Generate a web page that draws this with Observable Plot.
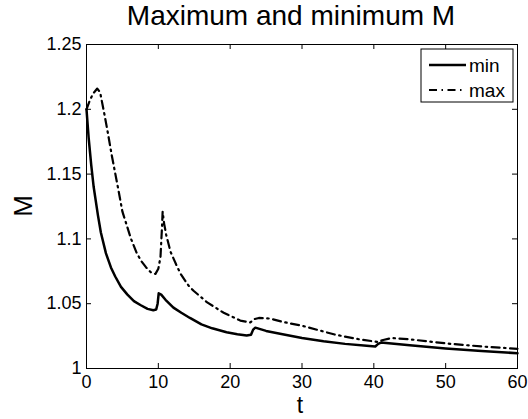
<!DOCTYPE html>
<html>
<head>
<meta charset="utf-8">
<script src="https://cdn.jsdelivr.net/npm/d3@7"></script>
<script src="https://cdn.jsdelivr.net/npm/@observablehq/plot@0.6"></script>
<style>
  html, body { margin: 0; padding: 0; background: white; }
</style>
</head>
<body>
<div id="chart"></div>
<script>
const titleText = "Maximum and minimum M";
const xLabel = "t";
const yLabel = "M";
const seriesNames = ["min", "max"];

const xTicks = [0, 10, 20, 30, 40, 50, 60];
const xTickLabels = ["0", "10", "20", "30", "40", "50", "60"];
const yTicks = [1, 1.05, 1.1, 1.15, 1.2, 1.25];
const yTickLabels = ["1", "1.05", "1.1", "1.15", "1.2", "1.25"];

const tMin = [0, 0.3, 0.66, 1.0, 1.6, 2.0, 2.7, 3.4, 4.0, 4.8, 5.7, 6.6, 7.5, 8.5, 9.3, 9.7, 9.9, 10.05, 10.4, 11.0, 12.1, 13.2, 14.4, 16.0, 17.5, 19.5, 21.0, 22.3, 22.9, 23.2, 23.5, 25, 27.3, 30, 33, 36, 39, 40.2, 40.6, 41.0, 45, 50, 55, 60];
const mMin = [1.200, 1.178, 1.157, 1.140, 1.118, 1.105, 1.089, 1.078, 1.071, 1.063, 1.057, 1.052, 1.049, 1.046, 1.045, 1.0455, 1.050, 1.058, 1.057, 1.053, 1.047, 1.043, 1.039, 1.034, 1.031, 1.028, 1.0265, 1.0255, 1.026, 1.030, 1.0315, 1.029, 1.0265, 1.0235, 1.021, 1.019, 1.0175, 1.017, 1.019, 1.020, 1.018, 1.0155, 1.0135, 1.0118];

const tMax = [0, 0.4, 0.9, 1.5, 1.9, 2.5, 3.0, 3.5, 4.4, 5.0, 5.4, 6.2, 7.0, 7.6, 8.3, 9.0, 9.6, 10.0, 10.3, 10.5, 10.6, 10.8, 11.1, 11.7, 12.5, 13.1, 14.2, 14.9, 16.8, 19.1, 21.4, 22.8, 23.3, 24.0, 25.6, 27.3, 30, 34.7, 38, 40.5, 41.3, 42.5, 45, 50.7, 55, 60];
const mMax = [1.200, 1.206, 1.212, 1.216, 1.213, 1.196, 1.181, 1.165, 1.139, 1.121, 1.114, 1.100, 1.089, 1.083, 1.078, 1.074, 1.073, 1.077, 1.086, 1.108, 1.121, 1.112, 1.103, 1.090, 1.080, 1.073, 1.064, 1.060, 1.051, 1.043, 1.037, 1.0355, 1.038, 1.039, 1.0385, 1.036, 1.033, 1.026, 1.0225, 1.0205, 1.022, 1.0235, 1.0225, 1.019, 1.017, 1.0152];

const minData = tMin.map((t, i) => ({t, m: mMin[i]}));
const maxData = tMax.map((t, i) => ({t, m: mMax[i]}));

const W = 528, H = 419;
const mL = 86, mR = 11, mT = 44, mB = 51;
const innerW = W - mL - mR, innerH = H - mT - mB;
const tick = 5;
const font = "'Liberation Sans', Arial, Helvetica, sans-serif";
const maxDash = "8,4.5,1.5,4.5";

const plot = Plot.plot({
  width: W,
  height: H,
  marginLeft: mL, marginRight: mR, marginTop: mT, marginBottom: mB,
  style: {fontFamily: font, background: "white", color: "black"},
  x: {domain: [0, 60]},
  y: {domain: [1, 1.25]},
  marks: [
    Plot.line(minData, {x: "t", y: "m", stroke: "black", strokeWidth: 2.5}),
    Plot.line(maxData, {x: "t", y: "m", stroke: "black", strokeWidth: 2.2, strokeDasharray: maxDash}),
    Plot.frame({stroke: "black", strokeWidth: 1}),
    Plot.ruleX(xTicks, {insetTop: innerH - tick, stroke: "black"}),
    Plot.ruleX(xTicks, {insetBottom: innerH - tick, stroke: "black"}),
    Plot.ruleY(yTicks, {insetRight: innerW - tick, stroke: "black"}),
    Plot.ruleY(yTicks, {insetLeft: innerW - tick, stroke: "black"}),
    Plot.axisX({ticks: xTicks, tickSize: 0, tickPadding: 7, fontSize: 18, label: null,
      tickFormat: d => xTickLabels[xTicks.indexOf(d)]}),
    Plot.axisY({ticks: yTicks, tickSize: 0, tickPadding: 5, fontSize: 18, label: null,
      tickFormat: d => yTickLabels[yTicks.indexOf(d)]})
  ]
});

const svg = d3.select(plot);
svg.append("text")
  .attr("x", 291).attr("y", 25)
  .attr("text-anchor", "middle")
  .style("font-family", font).style("font-size", "28px").attr("fill", "black")
  .text(titleText);
svg.append("text")
  .attr("x", 300).attr("y", 413)
  .attr("text-anchor", "middle")
  .style("font-family", font).style("font-size", "23px").attr("fill", "black")
  .text(xLabel);
svg.append("text")
  .attr("transform", `translate(32,${mT + innerH / 2}) rotate(-90)`)
  .attr("text-anchor", "middle")
  .style("font-family", font).style("font-size", "26px").attr("fill", "black")
  .text(yLabel);

// legend
const lg = svg.append("g");
lg.append("rect").attr("x", 421).attr("y", 49).attr("width", 92).attr("height", 53)
  .attr("fill", "white").attr("stroke", "black").attr("stroke-width", 1);
const rows = [{name: seriesNames[0], y: 65, dash: null, w: 2.5}, {name: seriesNames[1], y: 90, dash: maxDash, w: 2.2}];
rows.forEach(r => {
  const l = lg.append("line").attr("x1", 429).attr("x2", 466).attr("y1", r.y).attr("y2", r.y)
    .attr("stroke", "black").attr("stroke-width", r.w);
  if (r.dash) l.attr("stroke-dasharray", r.dash);
  lg.append("text").attr("x", 469).attr("y", r.y + 7)
    .attr("text-anchor", "start")
    .style("font-family", font).style("font-size", "19px").attr("fill", "black")
    .text(r.name);
});

document.getElementById("chart").appendChild(plot);
</script>
</body>
</html>
